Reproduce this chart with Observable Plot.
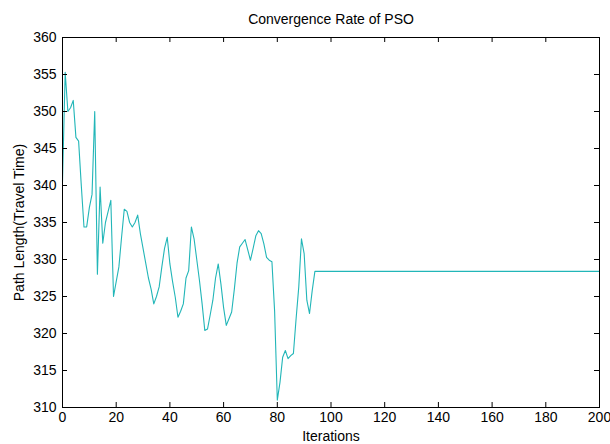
<!DOCTYPE html>
<html>
<head>
<meta charset="utf-8">
<script src="https://cdn.jsdelivr.net/npm/d3@7"></script>
<script src="https://cdn.jsdelivr.net/npm/@observablehq/plot@0.6"></script>
<style>
  html, body { margin: 0; padding: 0; background: #fff; }
  svg { display: block; }
</style>
</head>
<body>
<div id="chart"></div>
<script>
const title = "Convergence Rate of PSO";
const xLabel = "Iterations";
const yLabel = "Path Length(Travel Time)";

const iterations = [0,1,2,3,4,5,6,7,8,9,10,11,12,13,14,15,16,17,18,19,20,21,22,23,24,25,26,27,28,29,30,31,32,33,34,35,36,37,38,39,40,41,42,43,44,45,46,47,48,49,50,51,52,53,54,55,56,57,58,59,60,61,62,63,64,65,66,67,68,69,70,71,72,73,74,75,76,77,78,79,80,81,82,83,84,85,86,87,88,89,90,91,92,93,94,200];
const pathLength = [340.5,355.3,350,350.5,351.5,346.5,346,340,334.4,334.4,337,338.8,350,328,339.8,332.2,335,336.5,338,325,327,329,333,336.8,336.5,335,334.4,335,336,333.5,331.5,329.5,327.5,326,324,325,326.3,329,331.5,333,329.4,327,324.9,322.2,323,324,327.5,328.5,334.4,332.8,330,327.2,324,320.4,320.6,322.5,324.5,327.5,329.4,326.7,323.5,321.1,322,322.9,326,329.5,331.7,332.2,332.7,331.3,329.9,331.5,333.2,333.9,333.5,332.1,330.3,329.9,329.7,323,311,313.4,316.8,317.7,316.6,317,317.3,322,326.3,332.8,330.8,324.5,322.7,325.8,328.4,328.4];

const xTicks = [0,20,40,60,80,100,120,140,160,180,200];
const yTicks = [310,315,320,325,330,335,340,345,350,355,360];

const data = iterations.map((x, i) => ({x, y: pathLength[i]}));

const W = 610, H = 444;
const mL = 62, mR = 11, mT = 37, mB = 37;
const frameW = W - mL - mR, frameH = H - mT - mB;
const tick = 5;

const chart = Plot.plot({
  width: W,
  height: H,
  marginLeft: mL,
  marginRight: mR,
  marginTop: mT,
  marginBottom: mB,
  style: {fontFamily: "'Liberation Sans', Arial, sans-serif", fontSize: "14px", background: "#fff", color: "#000"},
  x: {domain: [0, 200]},
  y: {domain: [310, 360]},
  marks: [
    Plot.line(data, {x: "x", y: "y", stroke: "#22b6b8", strokeWidth: 1.1}),
    Plot.frame({stroke: "#000", strokeWidth: 1}),
    Plot.tickX(xTicks, {x: d => d, insetTop: frameH - tick, stroke: "#000"}),
    Plot.tickX(xTicks, {x: d => d, insetBottom: frameH - tick, stroke: "#000"}),
    Plot.tickY(yTicks, {y: d => d, insetRight: frameW - tick, stroke: "#000"}),
    Plot.tickY(yTicks, {y: d => d, insetLeft: frameW - tick, stroke: "#000"}),
    Plot.axisX({ticks: xTicks, tickSize: 0, tickPadding: 5, label: xLabel, labelAnchor: "center", labelOffset: 33, labelArrow: "none", fontSize: 14}),
    Plot.axisY({ticks: yTicks, tickSize: 0, tickPadding: 6, label: yLabel, labelAnchor: "center", labelOffset: 48, labelArrow: "none", fontSize: 14}),
    Plot.text([title], {frameAnchor: "top", dy: -18, lineAnchor: "middle", fontSize: 14, fill: "#000"})
  ]
});
document.getElementById("chart").appendChild(chart);
</script>
</body>
</html>
